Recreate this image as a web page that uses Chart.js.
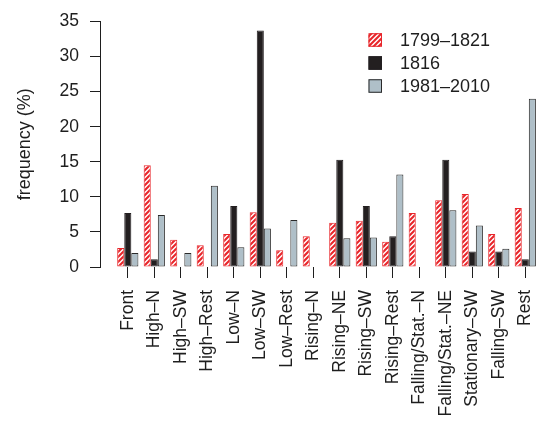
<!DOCTYPE html>
<html>
<head>
<meta charset="utf-8">
<script src="https://cdn.jsdelivr.net/npm/chart.js@4/dist/chart.umd.min.js"></script>
<style>
  html, body { margin: 0; padding: 0; background: #ffffff; }
  #wrap { width: 536px; height: 427px; }
</style>
</head>
<body>
<div id="wrap"><canvas id="c" width="536" height="427"></canvas></div>
<script>
// Weather-type categories (x axis)
const categories = ['Front', 'High–N', 'High–SW', 'High–Rest', 'Low–N', 'Low–SW', 'Low–Rest',
  'Rising–N', 'Rising–NE', 'Rising–SW', 'Rising–Rest', 'Falling/Stat.–N',
  'Falling/Stat.–NE', 'Stationary–SW', 'Falling–SW', 'Rest'];

// Frequency (%) of each weather type
const freq1799to1821 = [2.7, 14.5, 3.9, 3.1, 4.7, 7.8, 2.4, 4.4, 6.3, 6.6, 3.6, 7.7, 9.5, 10.4, 4.7, 8.4];
const freq1816       = [7.7, 1.1, 0, 0, 8.7, 33.7, 0, 0, 15.3, 8.7, 4.4, 0, 15.3, 2.2, 2.2, 1.1];
const freq1981to2010 = [2.0, 7.4, 2.0, 11.6, 2.8, 5.5, 6.7, 0, 4.1, 4.2, 13.2, 0, 8.1, 5.9, 2.6, 24.0];

const seriesLabels = ['1799–1821', '1816', '1981–2010'];
const yTickValues = [0, 5, 10, 15, 20, 25, 30, 35];

const FONT = '"Liberation Sans", Arial, Helvetica, sans-serif';
const RED = '#e8262b';
const DARK = '#231f20';
const GREY = '#afbfc8';
const INK = '#1e1e1e';

// Red diagonal hatching used for the 1799–1821 bars
function makeHatch() {
  const s = 5;
  const t = document.createElement('canvas');
  t.width = s; t.height = s;
  const g = t.getContext('2d');
  g.fillStyle = '#ffffff';
  g.fillRect(0, 0, s, s);
  g.strokeStyle = RED;
  g.lineWidth = 2.1;
  g.beginPath();
  g.moveTo(-1, s + 1); g.lineTo(s + 1, -1);
  g.moveTo(-1, 1); g.lineTo(1, -1);
  g.moveTo(s - 1, s + 1); g.lineTo(s + 1, s - 1);
  g.stroke();
  return document.getElementById('c').getContext('2d').createPattern(t, 'repeat');
}
const hatch = makeHatch();

const toPoints = arr => arr.map((v, i) => ({ x: i, y: v }));

// Legend drawn inside the plot, upper right
const boxLegend = {
  id: 'boxLegend',
  afterDatasetsDraw(chart) {
    const ctx = chart.ctx;
    const x0 = 368.5, y0 = 40, step = 23, sz = 13.5;
    ctx.save();
    ctx.font = '18px ' + FONT;
    ctx.textBaseline = 'middle';
    ctx.textAlign = 'left';
    chart.data.datasets.forEach((ds, i) => {
      const cy = y0 + i * step;
      ctx.fillStyle = ds.backgroundColor;
      ctx.fillRect(x0, cy - sz / 2, sz, sz);
      ctx.strokeStyle = ds.borderColor;
      ctx.lineWidth = 1;
      ctx.strokeRect(x0 + 0.5, cy - sz / 2 + 0.5, sz - 1, sz - 1);
      ctx.fillStyle = INK;
      ctx.fillText(ds.label, 400, cy + 1);
    });
    ctx.restore();
  }
};

const xMin = -1.049, xMax = 15.404;

new Chart(document.getElementById('c'), {
  type: 'bar',
  data: {
    datasets: [
      { label: seriesLabels[0], data: toPoints(freq1799to1821), backgroundColor: hatch, borderColor: RED },
      { label: seriesLabels[1], data: toPoints(freq1816), backgroundColor: DARK, borderColor: DARK },
      { label: seriesLabels[2], data: toPoints(freq1981to2010), backgroundColor: GREY, borderColor: '#2a2a2a' }
    ]
  },
  options: {
    responsive: false,
    animation: false,
    devicePixelRatio: 1,
    layout: { padding: { top: 17, right: 0, bottom: 0, left: 0 } },
    datasets: {
      bar: {
        categoryPercentage: 0.8,
        barPercentage: 1.0,
        borderWidth: 1,
        borderSkipped: false,
        inflateAmount: 0
      }
    },
    plugins: {
      legend: { display: false },
      tooltip: { enabled: false }
    },
    scales: {
      x: {
        type: 'linear',
        min: xMin,
        max: xMax,
        offset: false,
        afterBuildTicks: axis => { axis.ticks = categories.map((_, i) => ({ value: i })); },
        afterFit: axis => { axis.height = 160; axis.paddingLeft = 0; axis.paddingRight = 0; },
        grid: { offset: false, drawOnChartArea: false, drawTicks: true, tickLength: 11, color: INK, lineWidth: 1 },
        border: { display: false },
        ticks: {
          autoSkip: false,
          minRotation: 90,
          maxRotation: 90,
          padding: 12,
          color: INK,
          font: { family: FONT, size: 17.5 },
          callback: v => categories[v]
        }
      },
      y: {
        min: 0,
        max: 35,
        afterBuildTicks: axis => { axis.ticks = yTickValues.map(v => ({ value: v })); },
        afterFit: axis => { axis.width = 100; },
        grid: { drawOnChartArea: false, drawTicks: true, tickLength: 10, color: INK, lineWidth: 1 },
        border: { display: true, color: INK, width: 1 },
        ticks: {
          padding: 11,
          color: INK,
          font: { family: FONT, size: 17.5 }
        },
        title: {
          display: true,
          text: 'frequency (%)',
          color: INK,
          font: { family: FONT, size: 18 },
          padding: { top: 14, bottom: 0 }
        }
      }
    }
  },
  plugins: [boxLegend]
});
</script>
</body>
</html>
